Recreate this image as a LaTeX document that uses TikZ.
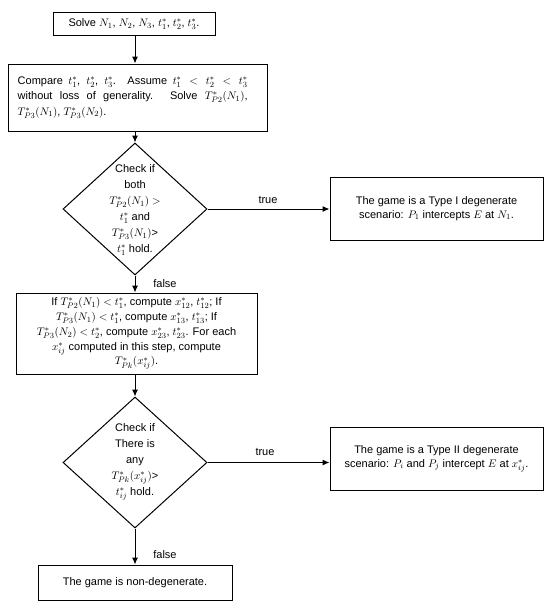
\documentclass[tikz,border=0pt]{standalone}
\usepackage{fontspec}
\setmainfont{Liberation Sans}
\usetikzlibrary{shapes.geometric,arrows.meta}
\begin{document}
\begin{tikzpicture}[x=1pt,y=-1pt,
  every node/.style={font=\fontsize{11}{14}\selectfont},
  box/.style={draw,line width=1pt,rectangle,inner sep=0pt},
  dia/.style={draw,line width=1pt,diamond,inner sep=0pt,minimum width=144pt,minimum height=132pt},
  diatext/.style={align=center,inner sep=0pt,font=\fontsize{11}{16}\selectfont},
  arr/.style={line width=1pt,-{Latex[length=7pt,width=6pt]}},
  lbl/.style={inner sep=0pt}]
\useasboundingbox (0,0) rectangle (550,608);
\node[box,minimum width=162pt,minimum height=23pt] (b1) at (134,24) {Solve $N_1$, $N_2$, $N_3$, $t_1^*$, $t_2^*$, $t_3^*$.};
\node[box,minimum width=259pt,minimum height=67pt] (b2) at (137.5,97.5) {};
\node[anchor=west,xshift=10pt,align=justify,text width=230pt,inner sep=0pt,font=\fontsize{11}{15.5}\selectfont] at (b2.west) {Compare $t_1^*$, $t_2^*$, $t_3^*$. Assume $t_1^*<t_2^*<t_3^*$\linebreak without loss of generality. Solve $T^*_{P2}(N_1)$,\linebreak $T^*_{P3}(N_1)$, $T^*_{P3}(N_2)$.};
\node[dia] (d1) at (135,209) {};
\node[diatext] at (135,210) {Check if\\ both\\ $T^*_{P2}(N_1) >$\\ $t_1^*$ and\\ $T^*_{P3}(N_1)$>\\ $t_1^*$ hold.};
\node[box,minimum width=213pt,minimum height=63pt,align=center] (b4) at (436.5,208.5) {The game is a Type I degenerate\\ scenario: $P_1$ intercepts $E$ at $N_1$.};
\node[box,minimum width=241pt,minimum height=81pt] (b3) at (136.5,333.5) {};
\node[align=center,inner sep=0pt,font=\fontsize{11}{14.8}\selectfont] at (b3) {If $T^*_{P2}(N_1) < t_1^*$, compute $x^*_{12}$, $t^*_{12}$; If\\ $T^*_{P3}(N_1) < t_1^*$, compute $x^*_{13}$, $t^*_{13}$; If\\ $T^*_{P3}(N_2) < t_2^*$, compute $x^*_{23}$, $t^*_{23}$. For each\\ $x^*_{ij}$ computed in this step, compute\\ $T^*_{Pk}(x^*_{ij})$.};
\node[dia,minimum height=131pt] (d2) at (135,462.5) {};
\node[diatext] at (135,462) {Check if\\ There is\\ any\\ $T^*_{Pk}(x^*_{ij})$>\\ $t^*_{ij}$ hold.};
\node[box,minimum width=213pt,minimum height=63pt,align=center] (b5) at (436.5,458.5) {The game is a Type II degenerate\\ scenario: $P_i$ and $P_j$ intercept $E$ at $x^*_{ij}$.};
\node[box,minimum width=194pt,minimum height=35pt] (b6) at (135,582.5) {The game is non-degenerate.};
\draw[arr] (b1.south -| 135,0) -- (135,0 |- b2.north);
\draw[arr] (135,0 |- b2.south) -- (d1.north);
\draw[arr] (d1.east) -- (d1.east -| b4.west);
\draw[arr] (d1.south) -- (135,0 |- b3.north);
\draw[arr] (135,0 |- b3.south) -- (d2.north);
\draw[arr] (d2.east) -- (d2.east -| b5.west);
\draw[arr] (d2.south) -- (b6.north);
\node[lbl] (t1) at (268,200) {true};
\node[lbl] (t2) at (265,452) {true};
\node[lbl] (f1) at (165,284) {false};
\node[lbl] (f2) at (165,555) {false};
\end{tikzpicture}
\end{document}
